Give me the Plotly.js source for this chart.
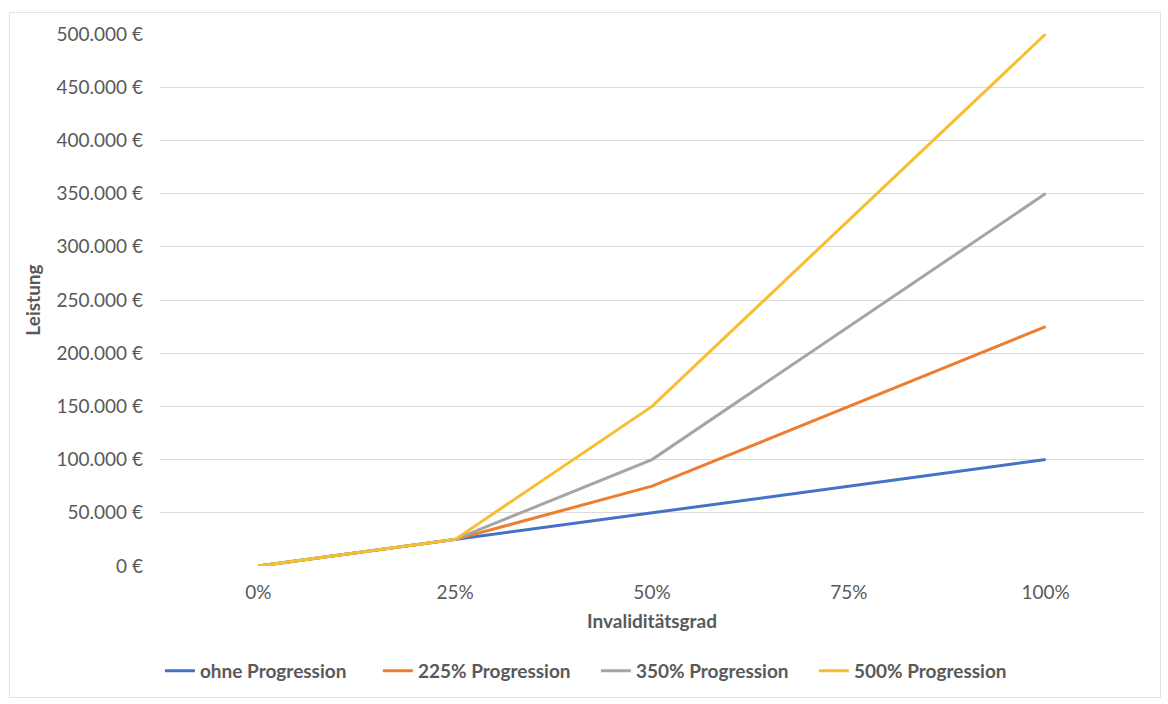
<!DOCTYPE html>
<html><head><meta charset="utf-8">
<script src="https://cdn.plot.ly/plotly-3.0.1.min.js"></script>
<style>
html,body{margin:0;padding:0;background:#fff;}
#frame{position:absolute;left:9px;top:12px;width:1150px;height:684px;border:1px solid #E3E3E3;}
#chart{position:absolute;left:0;top:0;width:1168px;height:704px;}
</style></head>
<body>
<div id="frame"></div>
<div id="chart"></div>
<script>
const categories = ["0%", "25%", "50%", "75%", "100%"];
const seriesNames = ["ohne Progression", "225% Progression", "350% Progression", "500% Progression"];
const ohneProgression = [0, 25000, 50000, 75000, 100000];
const progression225 = [0, 25000, 75000, 150000, 225000];
const progression350 = [0, 25000, 100000, 225000, 350000];
const progression500 = [0, 25000, 150000, 325000, 500000];
const yTicks = [0, 50000, 100000, 150000, 200000, 250000, 300000, 350000, 400000, 450000, 500000];
const yTickText = ["0 €", "50.000 €", "100.000 €", "150.000 €", "200.000 €", "250.000 €", "300.000 €", "350.000 €", "400.000 €", "450.000 €", "500.000 €"];
const colors = ["#4472C4", "#ED7D31", "#A5A5A5", "#F6BF2F"];

const allSeries = [ohneProgression, progression225, progression350, progression500];
const traces = allSeries.map((vals, i) => ({
  type: "scatter", mode: "lines", x: categories, y: vals, name: seriesNames[i],
  line: {color: colors[i], width: 3}, hoverinfo: "skip"
}));

const fam = "Lato, 'Open Sans', sans-serif";
const font = {family: fam, color: "#595959", size: 19};
const bold = {family: fam, color: "#595959", size: 19, weight: "bold"};
const layout = {
  width: 1168, height: 704,
  margin: {l: 160, r: 24, t: 34, b: 138},
  paper_bgcolor: "rgba(0,0,0,0)", plot_bgcolor: "#fff",
  font: font,
  showlegend: true,
  legend: {orientation: "h", x: 0.443, xanchor: "center", y: -0.197, yanchor: "middle",
    font: bold, itemwidth: 30, entrywidth: 173, traceorder: "normal"},
  xaxis: {type: "category", range: [-0.5, 4.5], showgrid: false, zeroline: false, showline: false,
    ticks: "", tickfont: font, ticklabelstandoff: 13,
    title: {text: "Invaliditätsgrad", font: bold, standoff: 12}},
  yaxis: {range: [0, 500000], tickvals: yTicks, ticktext: yTickText,
    showgrid: true, gridcolor: "#D9D9D9", gridwidth: 1, zeroline: false, showline: false, ticks: "",
    tickfont: font, ticklabelstandoff: 16,
    title: {text: "Leistung", font: bold, standoff: 10}}
};
Plotly.newPlot("chart", traces, layout, {displayModeBar: false, staticPlot: true});
</script>
</body></html>
